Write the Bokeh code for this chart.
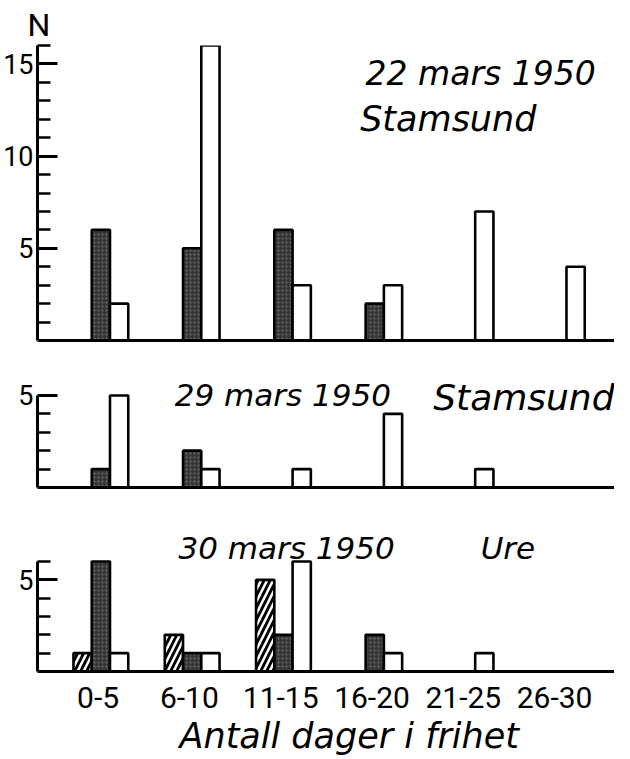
from bokeh.plotting import figure
from bokeh.models import Range1d, FixedTicker, Label, ColumnDataSource, Title
from bokeh.layouts import column
from bokeh.embed import file_html
from bokeh.resources import INLINE

# ---------------- data ----------------
categories = ["0-5", "6-10", "11-15", "16-20", "21-25", "26-30"]

p1_dark = [6, 5, 6, 2, 0, 0]
p1_white = [2, 16, 3, 3, 7, 4]

p2_dark = [1, 2, 0, 0, 0, 0]
p2_white = [5, 1, 1, 4, 1, 0]

p3_hatch = [1, 2, 5, 0, 0, 0]
p3_dark = [6, 1, 2, 2, 0, 0]
p3_white = [1, 1, 6, 1, 1, 0]

titles1 = ["22 mars 1950", "Stamsund"]
titles2 = ["29 mars 1950", "Stamsund"]
titles3 = ["30 mars 1950", "Ure"]
x_title = "Antall dager i frihet"
y_title = "N"

# ---------------- styling ----------------
W = 614
BW = 0.2
X0, X1 = -0.794, 5.526
TITLE_FONT = "DejaVu Sans"
TICK_FONT = "Roboto"


def bars(p, vals, offset, kind):
    xs = [i + offset for i, v in enumerate(vals) if v > 0]
    ys = [v for v in vals if v > 0]
    src = ColumnDataSource(dict(x=xs, top=ys))
    kw = dict(x="x", top="top", bottom=0, width=BW, source=src,
              line_color="black", line_width=2.6)
    if kind == "dark":
        p.vbar(fill_color="#363636", hatch_pattern=".", hatch_color="#707070",
               hatch_scale=4, hatch_weight=1, **kw)
    elif kind == "white":
        p.vbar(fill_color="white", **kw)
    else:
        p.vbar(fill_color="white", hatch_pattern="/", hatch_color="black",
               hatch_scale=12, hatch_weight=2.8, **kw)


def panel(height, top, bottom, ymax, bounds, majors, minors):
    p = figure(width=W, height=height, output_backend="svg", toolbar_location=None,
               x_range=Range1d(X0, X1), y_range=Range1d(0, ymax),
               min_border_left=25, min_border_right=0,
               min_border_top=top, min_border_bottom=bottom)
    p.outline_line_color = None
    p.xgrid.visible = False
    p.ygrid.visible = False
    p.background_fill_color = "white"
    p.border_fill_color = "white"

    ya = p.yaxis[0]
    ya.bounds = bounds
    ya.ticker = FixedTicker(ticks=majors, minor_ticks=minors)
    ya.axis_line_width = 3
    ya.major_tick_line_width = 3
    ya.minor_tick_line_width = 2.5
    ya.major_tick_in = 20
    ya.major_tick_out = 0
    ya.minor_tick_in = 13
    ya.minor_tick_out = 0
    ya.major_label_standoff = 4
    ya.major_label_text_font = TICK_FONT
    ya.major_label_text_font_size = "27px"
    ya.major_label_text_color = "black"

    xa = p.xaxis[0]
    xa.axis_line_width = 3
    xa.major_tick_line_color = None
    xa.minor_tick_line_color = None
    xa.ticker = FixedTicker(ticks=[])
    return p


def title(p, txt, x, y, size="33px"):
    p.add_layout(Label(x=x, y=y, text=txt, text_font=TITLE_FONT,
                       text_font_size=size, text_font_style="italic",
                       text_baseline="alphabetic", text_align="left",
                       text_color="black"))


# ---------------- panel 1 ----------------
p1 = panel(355, 45, 15, 16, (0, 16), [5, 10, 15], list(range(1, 17)))
bars(p1, p1_dark, -BW / 2, "dark")
bars(p1, p1_white, BW / 2, "white")
title(p1, titles1[0], 2.80, 14.5)
title(p1, titles1[1], 2.74, 12.0, "35px")
p1.add_layout(Title(text=y_title, align="left", offset=-10, standoff=3,
                    text_font=TICK_FONT, text_font_size="32px",
                    text_font_style="normal", text_color="black"), "above")

# ---------------- panel 2 ----------------
p2 = panel(145, 16, 13, 6.3, (0, 5), [5], [1, 2, 3, 4])
bars(p2, p2_dark, -BW / 2, "dark")
bars(p2, p2_white, BW / 2, "white")
title(p2, titles2[0], 0.71, 5.0, "31px")
title(p2, titles2[1], 3.54, 4.9, "36px")

# ---------------- panel 3 ----------------
p3 = panel(259, 17, 88, 8.4, (0, 6), [5], [1, 2, 3, 4, 6])
bars(p3, p3_hatch, -1.5 * BW, "hatch")
bars(p3, p3_dark, -BW / 2, "dark")
bars(p3, p3_white, BW / 2, "white")
title(p3, titles3[0], 0.75, 6.76, "31px")
title(p3, titles3[1], 4.06, 6.76, "31px")

xa3 = p3.xaxis[0]
tick_pos = [i - 0.13 for i in range(len(categories))]
xa3.ticker = FixedTicker(ticks=tick_pos)
xa3.major_label_overrides = {t: c for t, c in zip(tick_pos, categories)}
xa3.major_tick_in = 0
xa3.major_tick_out = 0
xa3.major_label_standoff = 15
xa3.major_label_text_font = TICK_FONT
xa3.major_label_text_font_size = "30px"
xa3.major_label_text_color = "black"
p3.add_layout(Title(text=x_title, align="left", offset=142, standoff=6,
                    text_font=TITLE_FONT, text_font_size="35px",
                    text_font_style="italic", text_color="black"), "below")

layout = column(p1, p2, p3, spacing=0)
open("out.html", "w").write(file_html(layout, INLINE))
